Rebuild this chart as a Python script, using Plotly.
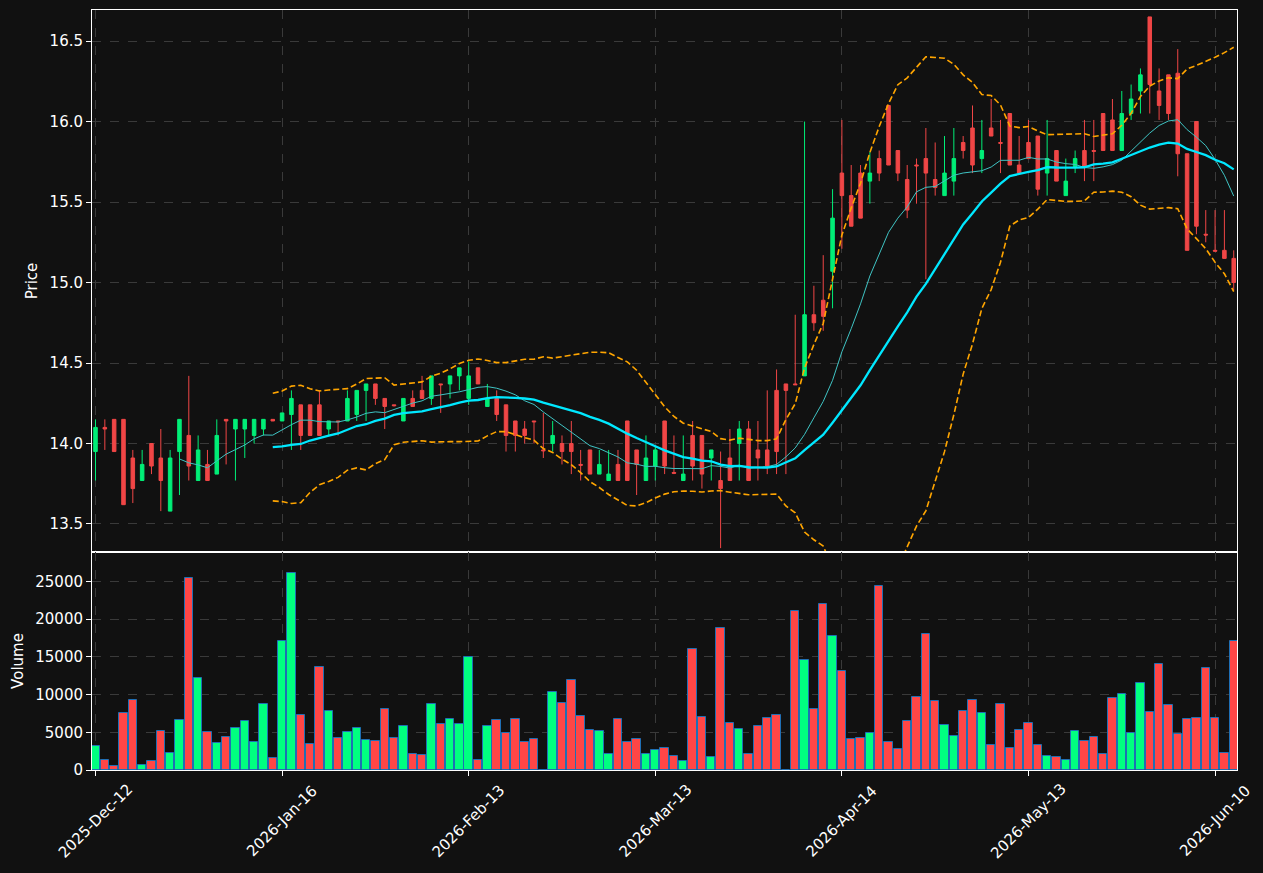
import numpy as np
import pandas as pd
import plotly.graph_objects as go
from plotly.subplots import make_subplots

# ---- data ----
opens = [13.95, 14.10, 14.15, 14.15, 13.91, 13.77, 14.00, 13.91, 13.58, 13.95,
         14.05, 13.77, 13.87, 13.81, 14.15, 14.09, 14.09, 14.05, 14.09, 14.15,
         14.14, 14.18, 14.24, 14.24, 14.24, 14.09, 14.14, 14.14, 14.18, 14.33,
         14.37, 14.28, 14.24, 14.14, 14.28, 14.33, 14.28, 14.37, 14.37, 14.42,
         14.28, 14.47, 14.23, 14.28, 14.24, 14.14, 14.09, 14.14, 13.96, 14.00,
         14.00, 14.00, 13.87, 13.96, 13.81, 13.77, 13.87, 14.14, 13.96, 13.77,
         13.86, 14.14, 13.82, 13.77, 14.05, 14.05, 13.91, 13.77, 13.91, 14.00,
         14.09, 13.96, 13.96, 14.33, 14.37, 14.37, 14.42, 14.80, 14.89, 15.07,
         15.68, 15.54, 15.68, 15.63, 15.77, 16.10, 15.82, 15.64, 15.73, 15.77,
         15.64, 15.54, 15.63, 15.87, 15.96, 15.77, 15.96, 15.87, 16.05, 15.73,
         15.87, 15.91, 15.68, 15.82, 15.54, 15.72, 15.82, 15.82, 16.05, 16.01,
         15.82, 16.05, 16.19, 16.65, 16.19, 16.29, 16.30, 15.80, 16.00, 15.30,
         15.20, 15.20, 15.15]
highs = [14.15, 14.15, 14.15, 14.15, 13.96, 13.96, 14.00, 14.09, 13.96, 14.15,
         14.42, 14.05, 13.96, 14.15, 14.15, 14.15, 14.15, 14.15, 14.15, 14.15,
         14.19, 14.33, 14.24, 14.24, 14.33, 14.14, 14.14, 14.33, 14.33, 14.37,
         14.37, 14.28, 14.24, 14.28, 14.33, 14.42, 14.42, 14.37, 14.42, 14.47,
         14.51, 14.47, 14.37, 14.33, 14.24, 14.14, 14.14, 14.14, 14.19, 14.14,
         14.05, 14.14, 13.96, 13.96, 13.96, 13.96, 13.96, 14.14, 13.96, 14.05,
         13.98, 14.14, 14.05, 14.05, 14.14, 14.05, 13.96, 13.95, 14.09, 14.14,
         14.14, 14.14, 14.33, 14.46, 14.37, 14.80, 16.00, 14.98, 15.17, 15.58,
         16.01, 15.73, 15.73, 15.81, 15.82, 16.10, 15.82, 15.73, 15.77, 15.96,
         15.87, 15.91, 15.96, 15.91, 16.10, 16.01, 16.14, 16.01, 16.05, 15.91,
         16.01, 15.91, 16.01, 15.82, 15.77, 15.82, 16.01, 16.01, 16.05, 16.14,
         16.19, 16.23, 16.33, 16.65, 16.33, 16.29, 16.45, 15.80, 16.00, 15.45,
         15.45, 15.45, 15.20]
lows = [13.77, 13.96, 13.95, 13.62, 13.63, 13.77, 13.81, 13.58, 13.58, 13.68,
        13.77, 13.77, 13.77, 13.81, 13.87, 13.77, 13.91, 14.00, 14.05, 14.14,
        14.14, 13.96, 13.96, 14.05, 14.05, 14.05, 14.05, 14.14, 14.14, 14.14,
        14.24, 14.09, 14.23, 14.14, 14.23, 14.28, 14.24, 14.19, 14.28, 14.33,
        14.24, 14.37, 14.23, 14.14, 13.95, 13.95, 14.00, 14.00, 13.91, 13.95,
        13.87, 13.81, 13.77, 13.81, 13.81, 13.77, 13.77, 13.77, 13.68, 13.77,
        13.77, 13.81, 13.81, 13.77, 13.77, 13.72, 13.77, 13.35, 13.77, 13.77,
        13.77, 13.77, 13.81, 13.81, 13.81, 14.37, 14.42, 14.70, 14.70, 14.84,
        15.21, 15.35, 15.40, 15.49, 15.63, 15.73, 15.63, 15.40, 15.49, 15.02,
        15.54, 15.54, 15.54, 15.77, 15.68, 15.68, 15.91, 15.68, 15.73, 15.68,
        15.77, 15.54, 15.54, 15.63, 15.54, 15.68, 15.63, 15.63, 15.82, 15.82,
        15.82, 16.01, 16.05, 16.05, 16.01, 16.01, 15.66, 15.20, 15.30, 15.25,
        15.20, 15.15, 14.95]
closes = [14.10, 14.09, 13.95, 13.62, 13.72, 13.87, 13.86, 13.77, 13.91, 14.15,
          13.86, 13.96, 13.77, 14.05, 14.14, 14.15, 14.15, 14.15, 14.15, 14.14,
          14.19, 14.28, 14.05, 14.05, 14.05, 14.14, 14.135, 14.28, 14.33, 14.37,
          14.28, 14.23, 14.235, 14.28, 14.23, 14.28, 14.42, 14.365, 14.42, 14.47,
          14.42, 14.37, 14.28, 14.18, 14.05, 14.05, 14.05, 14.135, 13.955, 14.05,
          13.95, 13.95, 13.865, 13.81, 13.87, 13.81, 13.77, 13.77, 13.87, 13.91,
          13.96, 13.86, 13.815, 13.81, 13.86, 13.81, 13.96, 13.72, 13.77, 14.09,
          13.77, 13.91, 13.86, 13.95, 14.33, 14.365, 14.80, 14.75, 14.79, 15.40,
          15.54, 15.35, 15.40, 15.68, 15.68, 15.73, 15.68, 15.45, 15.725, 15.68,
          15.59, 15.68, 15.77, 15.82, 15.73, 15.82, 15.91, 15.865, 15.73, 15.68,
          15.77, 15.58, 15.77, 15.63, 15.63, 15.77, 15.72, 15.815, 15.82, 15.82,
          16.05, 16.14, 16.29, 16.23, 16.10, 16.05, 15.80, 15.20, 15.35, 15.295,
          15.195, 15.15, 15.00]
volumes = [3140, 1280, 490, 7500, 9230, 620, 1150, 5120, 2200, 6580,
           25500, 12150, 4990, 3530, 4330, 5520, 6450, 3670, 8700, 1550,
           17050, 26060, 7240, 3400, 13600, 7770, 4200, 4990, 5520, 3930,
           3800, 8040, 4200, 5790, 2080, 1940, 8700, 6050, 6710, 6050,
           14930, 1280, 5790, 6580, 4860, 6710, 3670, 4060, 0, 10290,
           8830, 11880, 7110, 5260, 5120, 2080, 6710, 3670, 4060, 2080,
           2600, 2870, 1810, 1150, 15990, 6980, 1680, 18770, 6180, 5390,
           2080, 5790, 6850, 7240, 0, 21020, 14530, 8040, 21950, 17710,
           13070, 4060, 4200, 4860, 24340, 3670, 2740, 6450, 9630, 17980,
           9100, 5920, 4460, 7770, 9230, 7500, 3270, 8700, 2870, 5260,
           6180, 3270, 1810, 1680, 1280, 5120, 3800, 4330, 2080, 9500,
           10030, 4860, 11480, 7690, 14000, 8570, 4730, 6710, 6850, 13470,
           6850, 2200, 17050]
tick_positions = [0, 20, 40, 60, 80, 100, 120]
tick_labels = ["2025-Dec-12", "2026-Jan-16", "2026-Feb-13", "2026-Mar-13",
               "2026-Apr-14", "2026-May-13", "2026-Jun-10"]

UP = "#00ee77"
DOWN = "#f04646"
VUP = "#00ff80"
VDOWN = "#ff4646"

x = list(range(len(closes)))
close_s = pd.Series(closes, dtype=float)
ma10 = close_s.rolling(10).mean()
ma20 = close_s.rolling(20).mean()
sd20 = close_s.rolling(20).std(ddof=0)
upper = ma20 + 2 * sd20
lower = ma20 - 2 * sd20


def clean(s):
    return [None if pd.isna(v) else float(v) for v in s]


vol_colors = [VUP if c > o else VDOWN for o, c in zip(opens, closes)]

fig = make_subplots(rows=2, cols=1, shared_xaxes=True, vertical_spacing=0,
                    row_heights=[542, 218])

fig.add_trace(go.Candlestick(
    x=x, open=opens, high=highs, low=lows, close=closes,
    increasing=dict(line=dict(color=UP, width=1), fillcolor=UP),
    decreasing=dict(line=dict(color=DOWN, width=1), fillcolor=DOWN),
    whiskerwidth=0, hoverinfo="skip", showlegend=False), row=1, col=1)

fig.add_trace(go.Scatter(x=x, y=clean(upper), mode="lines",
                         line=dict(color="#ffa500", width=1.6, dash="6px,3px"),
                         showlegend=False, hoverinfo="skip"), row=1, col=1)
fig.add_trace(go.Scatter(x=x, y=clean(lower), mode="lines",
                         line=dict(color="#ffa500", width=1.6, dash="6px,3px"),
                         showlegend=False, hoverinfo="skip"), row=1, col=1)
fig.add_trace(go.Scatter(x=x, y=clean(ma10), mode="lines",
                         line=dict(color="#3fc4c4", width=1),
                         showlegend=False, hoverinfo="skip"), row=1, col=1)
fig.add_trace(go.Scatter(x=x, y=clean(ma20), mode="lines",
                         line=dict(color="#00e8ff", width=2.3),
                         showlegend=False, hoverinfo="skip"), row=1, col=1)

fig.add_trace(go.Bar(x=x, y=volumes, width=0.9,
                     marker=dict(color=vol_colors,
                                 line=dict(color="#1f6fb4", width=1)),
                     showlegend=False, hoverinfo="skip"), row=2, col=1)

BG = "#111111"
GRID = "#3a3a3a"
TXT = dict(family="DejaVu Sans", size=15, color="#ffffff")

axis_common = dict(showline=True, linecolor="#ffffff", linewidth=1, mirror=True,
                   ticks="outside", tickcolor="#ffffff", ticklen=5,
                   showgrid=True, gridcolor=GRID, griddash="dash", gridwidth=1,
                   zeroline=False, tickfont=TXT)

fig.update_layout(
    width=1263, height=873,
    margin=dict(l=92, r=26, t=10, b=103),
    paper_bgcolor=BG, plot_bgcolor=BG,
    font=TXT, showlegend=False,
    boxgap=0.46,
    bargap=0,
)

fig.update_xaxes(**axis_common, range=[-0.375, 122.35],
                 tickvals=tick_positions, ticktext=tick_labels,
                 showticklabels=False,
                 rangeslider=dict(visible=False))

fig.update_yaxes(**axis_common)
fig.update_yaxes(range=[13.326, 16.693], tickvals=[13.5, 14.0, 14.5, 15.0, 15.5, 16.0, 16.5],
                 tickformat=".1f", title=dict(text="Price", standoff=8, font=TXT),
                 row=1, col=1)
fig.update_yaxes(range=[0, 28880], tickvals=[0, 5000, 10000, 15000, 20000, 25000],
                 tickformat="d", title=dict(text="Volume", standoff=8, font=TXT),
                 row=2, col=1)

# rotated date labels centred under their ticks (matplotlib-style)
for pos, lab in zip(tick_positions, tick_labels):
    fig.add_annotation(x=pos, xref="x2", y=-51 / 760, yref="paper",
                       text=lab, textangle=-45, showarrow=False,
                       xanchor="center", yanchor="middle", font=TXT)

fig.write_html("out.html")
